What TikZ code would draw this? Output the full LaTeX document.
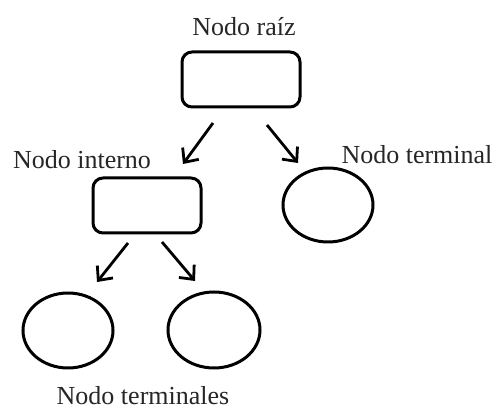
\documentclass[tikz,border=0pt]{standalone}
\usepackage{fontspec}
\setmainfont{Liberation Serif}
\usetikzlibrary{arrows.meta,shapes.geometric}
\begin{document}
\begin{tikzpicture}[x=1pt,y=-1pt,
  box/.style={draw, line width=3pt, rounded corners=10pt, inner sep=0pt},
  leaf/.style={draw, line width=3pt, ellipse, inner sep=0pt},
  lbl/.style={font=\fontsize{26}{30}\selectfont, inner sep=0pt, text=black!85},
  arr/.style={line width=2.8pt, -{Straight Barb[length=11pt,width=20pt,line width=2.8pt]}}
]
\useasboundingbox (0,0) rectangle (496,411);
\node[box, minimum width=118pt, minimum height=55pt] (root) at (241,79.5) {};
\node[box, minimum width=108pt, minimum height=55pt] (int) at (147,205.5) {};
\node[leaf, minimum width=90pt, minimum height=74pt] (t1) at (328,205) {};
\node[leaf, minimum width=90pt, minimum height=75pt] (t2) at (68,330.5) {};
\node[leaf, minimum width=92pt, minimum height=76pt] (t3) at (214,330) {};
\node[lbl] (lroot) at (244,27) {Nodo raíz};
\node[lbl] (lint) at (82,160) {Nodo interno};
\node[lbl] (lterm) at (417,155) {Nodo terminal};
\node[lbl] (lterms) at (143,396) {Nodo terminales};
\coordinate (a1s) at (213,123); \coordinate (a1e) at (183,164);
\coordinate (a2s) at (267,125); \coordinate (a2e) at (298,163);
\coordinate (a3s) at (128,243); \coordinate (a3e) at (97,282);
\coordinate (a4s) at (162,242); \coordinate (a4e) at (195,281);
\draw[arr] (a1s) -- (a1e);
\draw[arr] (a2s) -- (a2e);
\draw[arr] (a3s) -- (a3e);
\draw[arr] (a4s) -- (a4e);
\end{tikzpicture}
\end{document}
